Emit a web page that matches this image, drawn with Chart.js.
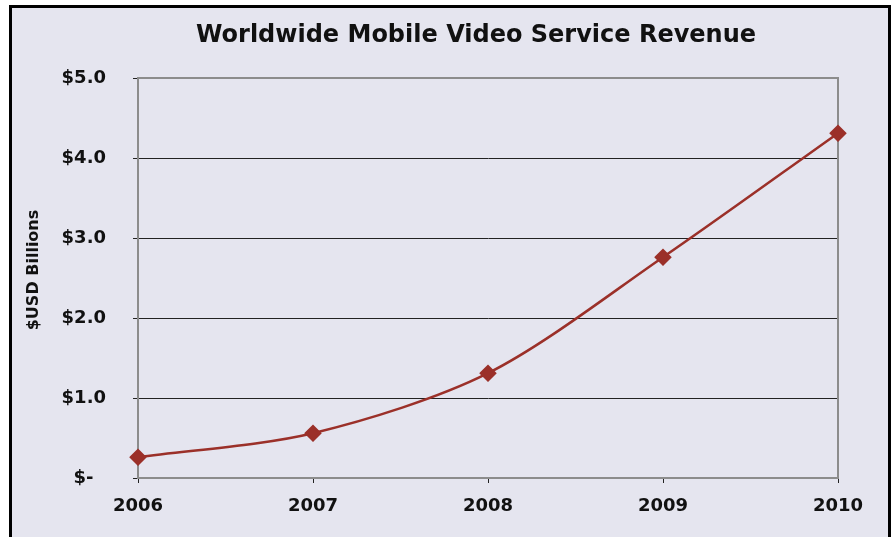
<!DOCTYPE html>
<html>
<head>
<meta charset="utf-8">
<script src="https://cdn.jsdelivr.net/npm/chart.js@4"></script>
<style>
  body { margin: 0; background: #fff; }
  #frame { position: absolute; left: 9px; top: 5px; width: 876px; height: 540px;
           border: 3px solid #000; background: #e5e5ef; }
  #wrap { position: absolute; left: 0; top: 0; width: 895px; height: 537px; }
</style>
</head>
<body>
<div id="frame"></div>
<div id="wrap"><canvas id="chart" width="895" height="537"></canvas></div>
<script>
// chart data
const years = ['2006', '2007', '2008', '2009', '2010'];
const revenue = [0.26, 0.56, 1.31, 2.76, 4.31];
const yTickLabels = ['$-  ', '$1.0', '$2.0', '$3.0', '$4.0', '$5.0'];
const chartTitle = 'Worldwide Mobile Video Service Revenue';
const yTitle = '$USD Billions';

const lineColor = '#9b3029';
const font = 'DejaVu Sans';

// titles + gray plot border, drawn by hand so they sit where excel put them
const extras = {
  id: 'extras',
  beforeDatasetsDraw(chart) {
    const c = chart.ctx, a = chart.chartArea;
    c.save();
    c.strokeStyle = '#8c8c8c';
    c.lineWidth = 2;
    c.strokeRect(a.left, a.top, a.right - a.left, a.bottom - a.top);
    c.restore();
  },
  afterDraw(chart) {
    const c = chart.ctx;
    c.save();
    c.fillStyle = '#111';
    c.textAlign = 'center';
    c.textBaseline = 'middle';
    c.font = 'bold 24px "' + font + '"';
    c.fillText(chartTitle, 476, 36);
    c.translate(34, 270);
    c.rotate(-Math.PI / 2);
    c.font = 'bold 16px "' + font + '"';
    c.fillText(yTitle, 0, 0);
    c.restore();
  }
};

new Chart(document.getElementById('chart'), {
  type: 'line',
  data: {
    labels: years,
    datasets: [{
      data: revenue,
      borderColor: lineColor,
      backgroundColor: lineColor,
      borderWidth: 2.5,
      tension: 0.3,
      pointStyle: 'rectRot',
      pointRadius: 7,
      pointHoverRadius: 7,
      clip: false
    }]
  },
  options: {
    responsive: false,
    animation: false,
    layout: { padding: { left: 0, right: 57, top: 78, bottom: 0 } },
    plugins: { legend: { display: false }, tooltip: { enabled: false } },
    scales: {
      x: {
        offset: false,
        afterFit: s => { s.height = 59; },
        grid: { drawOnChartArea: false, color: '#222', tickLength: 5 },
        border: { color: '#8c8c8c', width: 2 },
        ticks: { color: '#111', padding: 13, maxRotation: 0,
                 font: { family: font, size: 18, weight: 'bold' } }
      },
      y: {
        min: 0, max: 5,
        afterFit: s => { s.width = 138; },
        grid: { color: '#222', lineWidth: 1, tickLength: 5 },
        border: { color: '#8c8c8c', width: 2 },
        ticks: { stepSize: 1, color: '#111', padding: 27,
                 font: { family: font, size: 18, weight: 'bold' },
                 callback: v => yTickLabels[v] }
      }
    }
  },
  plugins: [extras]
});
</script>
</body>
</html>
